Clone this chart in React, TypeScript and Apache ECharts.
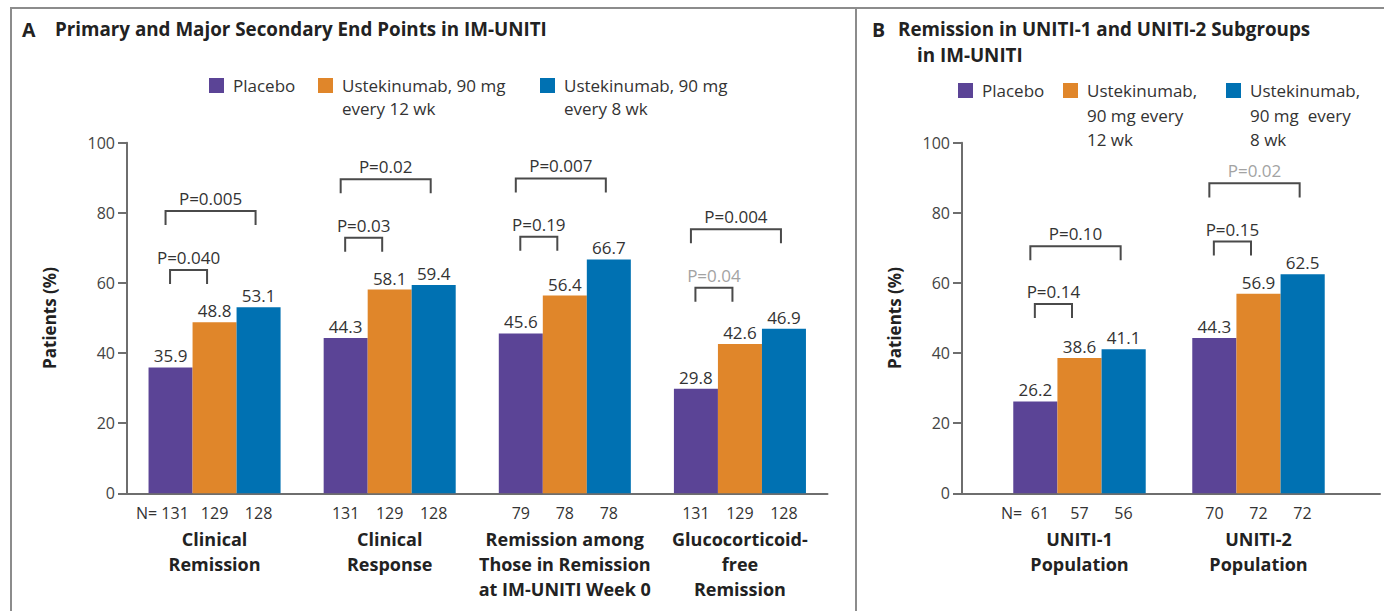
import React, { useEffect, useRef } from "react";
import * as echarts from "echarts";

// ---------- Data ----------
const seriesNames = ["Placebo", "Ustekinumab, 90 mg every 12 wk", "Ustekinumab, 90 mg every 8 wk"];

const catsA = [
  "Clinical\nRemission",
  "Clinical\nResponse",
  "Remission among\nThose in Remission\nat IM-UNITI Week 0",
  "Glucocorticoid-\nfree\nRemission",
];
const placeboA = [35.9, 44.3, 45.6, 29.8];
const q12A = [48.8, 58.1, 56.4, 42.6];
const q8A = [53.1, 59.4, 66.7, 46.9];
const nPlaceboA = [131, 131, 79, 131];
const nQ12A = [129, 129, 78, 129];
const nQ8A = [128, 128, 78, 128];

const catsB = ["UNITI-1\nPopulation", "UNITI-2\nPopulation"];
const placeboB = [26.2, 44.3];
const q12B = [38.6, 56.9];
const q8B = [41.1, 62.5];
const nPlaceboB = [61, 70];
const nQ12B = [57, 72];
const nQ8B = [56, 72];

// brackets: [category, fromBar, toBar, level]
const bracketsA = [
  [0, 0, 1, 63.7], [0, 0, 2, 80.5],
  [1, 0, 1, 72.9], [1, 0, 2, 89.6],
  [2, 0, 1, 73.2], [2, 0, 2, 89.8],
  [3, 0, 1, 58.6], [3, 0, 2, 75.3],
];
const pLabelsA = ["P=0.040", "P=0.005", "P=0.03", "P=0.02", "P=0.19", "P=0.007", "P=0.04", "P=0.004"];
const pGrayA = [false, false, false, false, false, false, true, false];

const bracketsB = [
  [0, 0, 1, 54.0], [0, 0, 2, 70.5],
  [1, 0, 1, 71.8], [1, 0, 2, 88.4],
];
const pLabelsB = ["P=0.14", "P=0.10", "P=0.15", "P=0.02"];
const pGrayB = [false, false, false, true];

const yTicks = [0, 20, 40, 60, 80, 100];

// ---------- Style ----------
const FONT = "'Open Sans', sans-serif";
const COLORS = ["#5B4496", "#E0862A", "#0071B2"];
const AXIS = "#6e6e6e";
const TXT = "#333333";
const GAP_A = 0.246;
const GAP_B = 0.26;

const TOP = 142.7;
const H = 350.6;

function catLabel(nP: number[], nQ12: number[], nQ8: number[], withN: boolean) {
  return (value: string, index: number) => {
    let first: string;
    if (index === 0 && withN) {
      first = `{np|N=}{nf|${nP[index]}}{n|${nQ12[index]}}{n|${nQ8[index]}}{ne|}`;
    } else {
      first = [nP[index], nQ12[index], nQ8[index]].map((n) => `{n|${n}}`).join("");
    }
    const names = value.split("\n").map((l) => `{c|${l}}`).join("\n");
    return first + "\n" + names;
  };
}

const numStyle = { fontSize: 16, lineHeight: 26, color: TXT, fontFamily: FONT };
const richCat = {
  n: { ...numStyle, width: 44, align: "center" },
  np: { ...numStyle, width: 22, align: "right" },
  nf: { ...numStyle, width: 35, align: "left" },
  ne: { ...numStyle, width: 13 },
  c: { fontSize: 18, fontWeight: "bold", lineHeight: 25, color: "#222", fontFamily: FONT },
};

function bracketRender(labels: string[], gray: boolean[], gapFrac: number) {
  return (params: any, api: any) => {
    const i = params.dataIndex;
    const cat = api.value(0);
    const from = api.value(1);
    const to = api.value(2);
    const level = api.value(3);
    const c = api.coord([cat, level]);
    const band = api.size([1, 0])[0];
    const barW = (band * (1 - gapFrac)) / 3;
    const small = to - from === 1;
    const inset = small ? 3.5 : -1;
    const x1 = c[0] + (from - 1) * barW + inset - 4;
    const x2 = c[0] + (to - 1) * barW - inset - 4;
    const yTop = c[1];
    const yDrop = api.coord([cat, level - 4])[1];
    return {
      type: "group",
      children: [
        {
          type: "polyline",
          shape: { points: [[x1, yDrop], [x1, yTop], [x2, yTop], [x2, yDrop]] },
          style: { stroke: "#4a4a4a", lineWidth: 2, fill: "none" },
        },
        {
          type: "text",
          style: {
            text: labels[i],
            x: (x1 + x2) / 2,
            y: yTop - 12.5,
            align: "center",
            verticalAlign: "middle",
            fontSize: 17,
            fontFamily: FONT,
            fill: gray[i] ? "#a3a3a3" : TXT,
          },
        },
      ],
    };
  };
}

function barSeries(name: string, data: number[], color: string, xi: number, yi: number, gap: number) {
  return {
    type: "bar",
    name,
    data,
    xAxisIndex: xi,
    yAxisIndex: yi,
    barGap: "0%",
    barCategoryGap: `${gap * 100}%`,
    itemStyle: { color },
    label: {
      show: true,
      position: "top",
      distance: 3,
      fontSize: 17,
      fontFamily: FONT,
      color: TXT,
      formatter: (p: any) => p.value.toFixed(1),
    },
  };
}

// icon: 15x15 square, followed by a 4px blank so the text sits 9px after the square
const ICON = "path://M0,0H15V15H0ZM19,15";

function legendItem(name: string, text: string, lines: number, left: number, iconTop: number, lh: number) {
  const blank = Array(lines - 1).fill(" ");
  const content = [...blank, ...text.split("\n")].join("\n");
  const blockH = (lines * 2 - 1) * lh;
  const top = iconTop + (7.5 - blockH / 2);
  return {
    show: true,
    left,
    top,
    padding: 0,
    itemWidth: 19,
    itemHeight: 15,
    itemGap: 0,
    itemStyle: { borderWidth: 0 },
    icon: ICON,
    selectedMode: false,
    data: [{ name }],
    formatter: () => content,
    textStyle: { fontSize: 17, fontFamily: FONT, color: TXT, lineHeight: lh },
  };
}

function yAxisVisible(gridIndex: number, nameGap: number) {
  return {
    type: "value",
    gridIndex,
    min: 0,
    max: 100,
    interval: 20,
    name: "Patients (%)",
    nameLocation: "middle",
    nameRotate: 90,
    nameGap,
    nameTextStyle: { fontSize: 17, fontWeight: "bold", color: "#222", fontFamily: FONT },
    axisLine: { show: true, lineStyle: { color: AXIS, width: 2 } },
    axisTick: { show: true, length: 9, lineStyle: { color: AXIS, width: 2 } },
    axisLabel: {
      margin: 12,
      fontSize: 16,
      fontFamily: FONT,
      color: "#444",
      formatter: (v: number) => (yTicks.includes(v) ? String(v) : ""),
    },
    splitLine: { show: false },
  };
}

const titleStyle = { fontSize: 18.8, fontWeight: "bold", color: "#222", fontFamily: FONT, lineHeight: 24 };

export default function App() {
  const ref = useRef<HTMLDivElement>(null);
  useEffect(() => {
    document.body.style.margin = "0";
    if (!ref.current) return;
    const chart = echarts.init(ref.current, undefined, { renderer: "svg" });
    const option: any = {
      animation: false,
      backgroundColor: "#ffffff",
      textStyle: { fontFamily: FONT },
      title: [
        { text: "A", left: 22, top: 17, padding: 0, textStyle: { ...titleStyle, fontSize: 19.5 } },
        { text: "Primary and Major Secondary End Points in IM-UNITI", left: 55, top: 17, padding: 0, textStyle: titleStyle },
        { text: "B", left: 872, top: 17, padding: 0, textStyle: { ...titleStyle, fontSize: 19.5 } },
        { text: "Remission in UNITI-1 and UNITI-2 Subgroups", left: 898, top: 17, padding: 0, textStyle: titleStyle },
        { text: "in IM-UNITI", left: 917, top: 43, padding: 0, textStyle: titleStyle },
      ],
      legend: [
        legendItem(seriesNames[0], "Placebo", 1, 209, 78, 23),
        legendItem(seriesNames[1], "Ustekinumab, 90 mg\nevery 12 wk", 2, 318, 78, 23),
        legendItem(seriesNames[2], "Ustekinumab, 90 mg\nevery 8 wk", 2, 540, 78, 23),
        legendItem(seriesNames[0], "Placebo", 1, 958, 83, 24.5),
        legendItem(seriesNames[1], "Ustekinumab,\n90 mg every\n12 wk", 3, 1063, 83, 24.5),
        legendItem(seriesNames[2], "Ustekinumab,\n90 mg  every\n8 wk", 3, 1226, 83, 24.5),
      ],
      grid: [
        { left: 127, top: TOP, width: 700.5, height: H },
        { left: 962, top: TOP, width: 418, height: H },
        { left: 990, top: TOP, width: 358, height: H },
      ],
      xAxis: [
        {
          type: "category",
          gridIndex: 0,
          data: catsA,
          axisLine: { show: true, lineStyle: { color: AXIS, width: 2 } },
          axisTick: { show: false },
          axisLabel: { margin: 7, interval: 0, formatter: catLabel(nPlaceboA, nQ12A, nQ8A, true), rich: richCat },
        },
        {
          type: "value",
          gridIndex: 1,
          min: 0,
          max: 1,
          axisLine: { show: true, onZero: false, lineStyle: { color: AXIS, width: 2 } },
          axisTick: { show: false },
          axisLabel: { show: false },
          splitLine: { show: false },
        },
        {
          type: "category",
          gridIndex: 2,
          data: catsB,
          axisLine: { show: false },
          axisTick: { show: false },
          axisLabel: { margin: 7, interval: 0, formatter: catLabel(nPlaceboB, nQ12B, nQ8B, true), rich: richCat },
        },
      ],
      yAxis: [
        yAxisVisible(0, 69),
        yAxisVisible(1, 59),
        { type: "value", gridIndex: 2, min: 0, max: 100, show: false },
      ],
      series: [
        barSeries(seriesNames[0], placeboA, COLORS[0], 0, 0, GAP_A),
        barSeries(seriesNames[1], q12A, COLORS[1], 0, 0, GAP_A),
        barSeries(seriesNames[2], q8A, COLORS[2], 0, 0, GAP_A),
        barSeries(seriesNames[0], placeboB, COLORS[0], 2, 2, GAP_B),
        barSeries(seriesNames[1], q12B, COLORS[1], 2, 2, GAP_B),
        barSeries(seriesNames[2], q8B, COLORS[2], 2, 2, GAP_B),
        {
          type: "custom",
          xAxisIndex: 0,
          yAxisIndex: 0,
          data: bracketsA,
          encode: { x: 0, y: 3 },
          clip: false,
          silent: true,
          renderItem: bracketRender(pLabelsA, pGrayA, GAP_A),
        },
        {
          type: "custom",
          xAxisIndex: 2,
          yAxisIndex: 2,
          data: bracketsB,
          encode: { x: 0, y: 3 },
          clip: false,
          silent: true,
          renderItem: bracketRender(pLabelsB, pGrayB, GAP_B),
        },
      ],
      graphic: [
        { type: "line", shape: { x1: 10, y1: 8, x2: 1384, y2: 8 }, style: { stroke: "#8c8c8c", lineWidth: 2 }, silent: true },
        { type: "line", shape: { x1: 11, y1: 7, x2: 11, y2: 611 }, style: { stroke: "#8c8c8c", lineWidth: 2 }, silent: true },
        { type: "line", shape: { x1: 856, y1: 7, x2: 856, y2: 611 }, style: { stroke: "#8c8c8c", lineWidth: 2 }, silent: true },
      ],
    };
    chart.setOption(option);
    return () => chart.dispose();
  }, []);
  return <div ref={ref} style={{ width: 1384, height: 611 }} />;
}
